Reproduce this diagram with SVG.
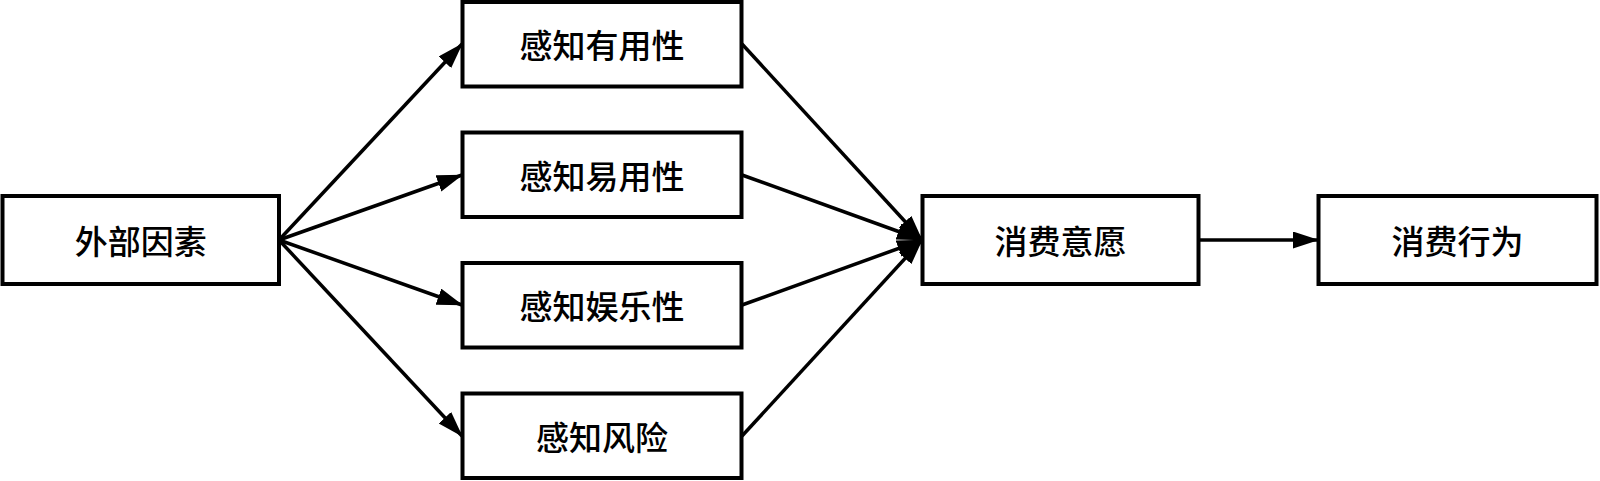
<svg xmlns="http://www.w3.org/2000/svg" width="1600" height="481" viewBox="0 0 1600 481">
<defs>
<style>
.box{fill:#fff;stroke:#000;stroke-width:4}
.lbl{font-family:"Noto Sans CJK SC","Microsoft YaHei",sans-serif;font-size:33px;font-weight:500;fill:#000;text-anchor:middle;dominant-baseline:central}
.edge{stroke:#000;stroke-width:3.5;fill:none;marker-end:url(#ah)}
</style>
<marker id="ah" markerUnits="userSpaceOnUse" markerWidth="28" markerHeight="18" refX="25" refY="8.5" orient="auto">
<path d="M0,0 L26,8.5 L0,17 Z" fill="#000"/>
</marker>
</defs>
<rect width="1600" height="481" fill="#fff"/>
<g id="connectors">
<line class="edge" x1="279" y1="240" x2="462" y2="44"/>
<line class="edge" x1="279" y1="240" x2="462" y2="175"/>
<line class="edge" x1="279" y1="240" x2="462" y2="305"/>
<line class="edge" x1="279" y1="240" x2="462" y2="436"/>
<line class="edge" x1="742" y1="44" x2="922" y2="240"/>
<line class="edge" x1="742" y1="175" x2="922" y2="240"/>
<line class="edge" x1="742" y1="305" x2="922" y2="240"/>
<line class="edge" x1="742" y1="436" x2="922" y2="240"/>
<line class="edge" x1="1198" y1="240" x2="1318" y2="240"/>
</g>
<g id="n_external">
<rect class="box" x="2.5" y="196" width="276.5" height="88"/>
<text class="lbl" x="140.75" y="240">外部因素</text>
</g>
<g id="n_usefulness">
<rect class="box" x="462.5" y="2" width="279" height="84.5"/>
<text class="lbl" x="602" y="44">感知有用性</text>
</g>
<g id="n_ease">
<rect class="box" x="462.5" y="132.5" width="279" height="84.5"/>
<text class="lbl" x="602" y="175">感知易用性</text>
</g>
<g id="n_enjoyment">
<rect class="box" x="462.5" y="263" width="279" height="84.5"/>
<text class="lbl" x="602" y="305">感知娱乐性</text>
</g>
<g id="n_risk">
<rect class="box" x="462.5" y="393.5" width="279" height="84.5"/>
<text class="lbl" x="602" y="436">感知风险</text>
</g>
<g id="n_intention">
<rect class="box" x="922.5" y="196" width="276" height="88"/>
<text class="lbl" x="1060.5" y="240">消费意愿</text>
</g>
<g id="n_behavior">
<rect class="box" x="1318.5" y="196" width="278" height="88"/>
<text class="lbl" x="1457.5" y="240">消费行为</text>
</g>
</svg>
